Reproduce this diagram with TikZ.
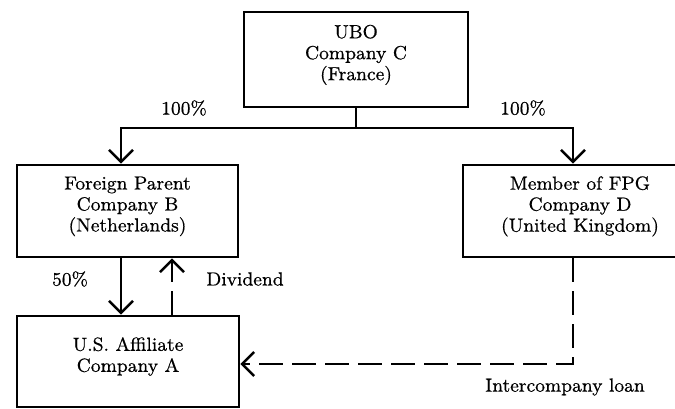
\documentclass[tikz,border=0pt]{standalone}
\usepackage{fontspec}
\usepackage{tikz}
\usetikzlibrary{arrows.meta, positioning}
\newfontfamily\chartfont{Latin Modern Roman}[FakeBold=0.6]

\begin{document}
\begin{tikzpicture}[x=0.5pt,y=-0.5pt,line width=1.3pt,
  >={Straight Barb[length=6pt,width=12pt]},
  every node/.style={font=\chartfont\fontsize{9.5}{10.5}\selectfont},
  company/.style={draw,align=center,inner sep=0pt,text depth=7pt},
  loan/.style={dashed,dash pattern=on 12pt off 4.5pt}]
\useasboundingbox (0,0) rectangle (675,408);
% companies
\node[company,minimum width=112pt,minimum height=47.5pt] (C) at (356,59.5) {UBO\\Company C\\(France)};
\node[company,minimum width=110.5pt,minimum height=46pt] (B) at (127.5,211) {Foreign Parent\\Company B\\(Netherlands)};
\node[company,minimum width=117pt,minimum height=46pt] (D) at (580,211) {Member of FPG\\Company D\\(United Kingdom)};
\node[company,minimum width=111pt,minimum height=45.5pt] (A) at (128,361.5) {U.S. Affiliate\\Company A};
% ownership
\coordinate (split) at (356,128);
\draw[->] (C.south)--(split)-|([xshift=-3.25pt]B.north);
\draw[->] (split)-|([xshift=-3.5pt]D.north);
\draw[->] ([xshift=-3.25pt]B.south)--([xshift=-3.25pt]B.south|-A.north);
\node (pc1) at (184,108) {100\%};
\node (pc2) at (523,108) {100\%};
\node (pc3) at (70,279) {50\%};
% flows
\draw[->,loan] ([xshift=22pt]A.north)--([xshift=22pt]A.north|-B.south);
\node (div) at (245,279) {Dividend};
\draw[->,loan] ([xshift=-3.5pt]D.south)|-([yshift=-1.25pt]A.east);
\node (icl) at (565,387) {Intercompany loan};

\end{tikzpicture}
\end{document}
